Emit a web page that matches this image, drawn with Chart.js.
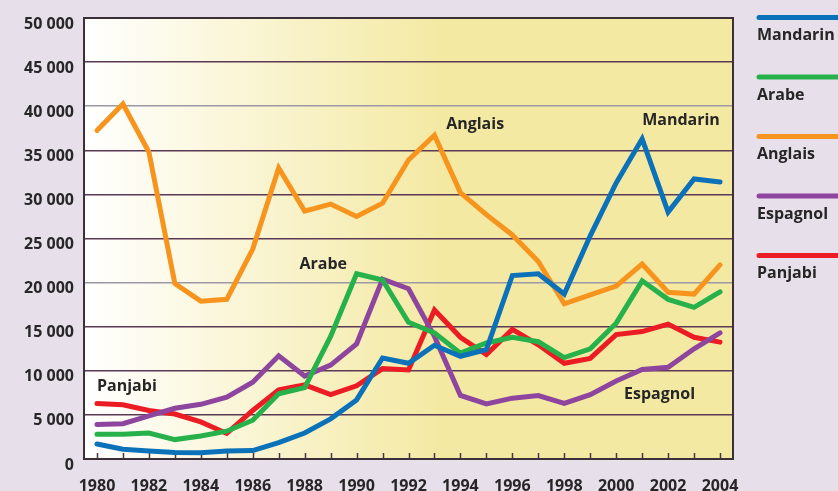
<!DOCTYPE html>
<html>
<head>
<meta charset="utf-8">
<script src="https://cdn.jsdelivr.net/npm/chart.js@4/dist/chart.umd.min.js"></script>
<style>
html,body{margin:0;padding:0;background:#e7dfea;}
#wrap{width:838px;height:491px;position:relative;}
</style>
</head>
<body>
<div id="wrap"><canvas id="c" width="838" height="491"></canvas></div>
<script>
const years = ['1980','1981','1982','1983','1984','1985','1986','1987','1988','1989','1990','1991','1992','1993','1994','1995','1996','1997','1998','1999','2000','2001','2002','2003','2004'];
const mandarin = [1700,1100,900,750,700,900,950,1850,2950,4550,6700,11450,10850,12900,11650,12400,20800,21000,18700,25300,31300,36300,28000,31750,31400];
const arabe    = [2800,2800,2950,2200,2600,3150,4400,7400,8100,13900,21000,20300,15500,14300,12000,13150,13800,13300,11500,12500,15400,20200,18100,17200,18950];
const anglais  = [37250,40250,34800,19900,17900,18100,23800,33000,28100,28900,27500,29000,33900,36700,30200,27700,25400,22400,17600,18600,19600,22100,18900,18700,22000];
const espagnol = [3900,4000,4900,5750,6200,7000,8700,11700,9400,10650,13050,20400,19300,13900,7200,6250,6900,7200,6300,7300,8850,10150,10400,12500,14300];
const panjabi  = [6300,6150,5500,5100,4200,2900,5500,7850,8400,7300,8300,10250,10100,16900,13800,11850,14700,12950,10850,11400,14100,14450,15300,13800,13250];
const yTicks = [0,5000,10000,15000,20000,25000,30000,35000,40000,45000,50000];
const seriesNames = ['Mandarin','Arabe','Anglais','Espagnol','Panjabi'];
const seriesColors = ['#0b72b9','#27b14b','#f7941d','#8e459e','#ec1c24'];
const seriesData = [mandarin, arabe, anglais, espagnol, panjabi];

const FONT = '"Open Sans", "DejaVu Sans", sans-serif';
const TEXT = '#262626';

const PLOT = {left:84, right:733, top:13, bottom:459};

const bgPlugin = {
  id:'bg',
  beforeDraw(chart){
    const {ctx, chartArea:a} = chart;
    ctx.save();
    ctx.fillStyle = '#e7dfea';
    ctx.fillRect(0,0,chart.width,chart.height);
    const g = ctx.createLinearGradient(a.left,0,a.left+(a.right-a.left)*0.55,0);
    g.addColorStop(0,'#ffffff');
    g.addColorStop(1,'#f4e9a3');
    ctx.fillStyle = g;
    ctx.fillRect(a.left,a.top,a.right-a.left,a.bottom-a.top);
    ctx.restore();
  },
  beforeDatasetsDraw(chart){
    const {ctx, chartArea:a} = chart;
    const xs = chart.scales.x;
    ctx.save();
    ctx.strokeStyle = '#4a3545';
    ctx.lineWidth = 1.5;
    for(let i=0;i<years.length;i++){
      const x = Math.round(xs.getPixelForValue(i))+0.5;
      ctx.beginPath(); ctx.moveTo(x,a.bottom); ctx.lineTo(x,a.bottom-6); ctx.stroke();
    }
    ctx.strokeStyle = '#3b3038';
    ctx.lineWidth = 2;
    ctx.strokeRect(a.left,a.top,a.right-a.left,a.bottom-a.top);
    ctx.restore();
  },
  afterDatasetsDraw(chart){
    const {ctx} = chart;
    const xs = chart.scales.x, ys = chart.scales.y;
    ctx.save();
    ctx.font = 'bold 16px ' + FONT;
    ctx.fillStyle = TEXT;
    ctx.textBaseline = 'middle';
    ctx.textAlign = 'left';
    const notes = [
      ['Anglais', 13.45, 37900],
      ['Mandarin', 21.0, 38400],
      ['Arabe', 7.8, 22100],
      ['Panjabi', 0.0, 8200],
      ['Espagnol', 20.3, 7300]
    ];
    notes.forEach(([t,xi,v])=>{
      ctx.fillText(t, xs.getPixelForValue(xi), ys.getPixelForValue(v));
    });
    // legend
    const lx = 757;
    seriesNames.forEach((n,i)=>{
      const ly = 17.5 + i*59.5;
      ctx.strokeStyle = seriesColors[i];
      ctx.lineWidth = 5;
      ctx.lineCap = 'round';
      ctx.beginPath(); ctx.moveTo(lx+2, ly); ctx.lineTo(850, ly); ctx.stroke();
      ctx.fillText(n, lx, ly + 18);
    });
    ctx.restore();
  }
};

const chart = new Chart(document.getElementById('c'), {
  type:'line',
  data:{
    labels: years,
    datasets: seriesNames.map((n,i)=>({
      label:n,
      data:seriesData[i],
      borderColor:seriesColors[i],
      backgroundColor:seriesColors[i],
      borderWidth:5,
      pointRadius:0,
      tension:0,
      borderJoinStyle:'miter',
      borderCapStyle:'round'
    }))
  },
  options:{
    responsive:false,
    animation:false,
    layout:{padding:{left:0,right:838-PLOT.right,top:3,bottom:0}},
    plugins:{legend:{display:false},tooltip:{enabled:false}},
    scales:{
      x:{
        offset:true,
        grid:{display:true, drawOnChartArea:false, drawTicks:true, tickLength:10, color:'rgba(0,0,0,0)'},
        border:{display:false},
        ticks:{
          autoSkip:false, maxRotation:0, padding:8,
          color:TEXT,
          font:{family:FONT, size:16, weight:'bold'},
          callback:(v,i)=> i%2===0 ? years[i] : ''
        },
        afterFit(s){ s.height = 491 - PLOT.bottom; }
      },
      y:{
        min:0,max:50000,
        afterBuildTicks(s){ s.ticks = yTicks.map(v=>({value:v})); },
        grid:{
          drawTicks:false,
          lineWidth:1.5,
          color:(c)=> (c.tick && (c.tick.value===20000 || c.tick.value===40000)) ? '#9c98a6' : '#5b3954'
        },
        border:{display:false},
        ticks:{
          padding:10,
          labelOffset:6,
          color:TEXT,
          font:{family:FONT, size:16, weight:'bold', lineHeight:1.0},
          callback:(v)=> v===0 ? '0' : String(v/1000)+' 000'
        },
        afterFit(s){ s.width = PLOT.left; }
      }
    }
  },
  plugins:[bgPlugin]
});
</script>
</body>
</html>
